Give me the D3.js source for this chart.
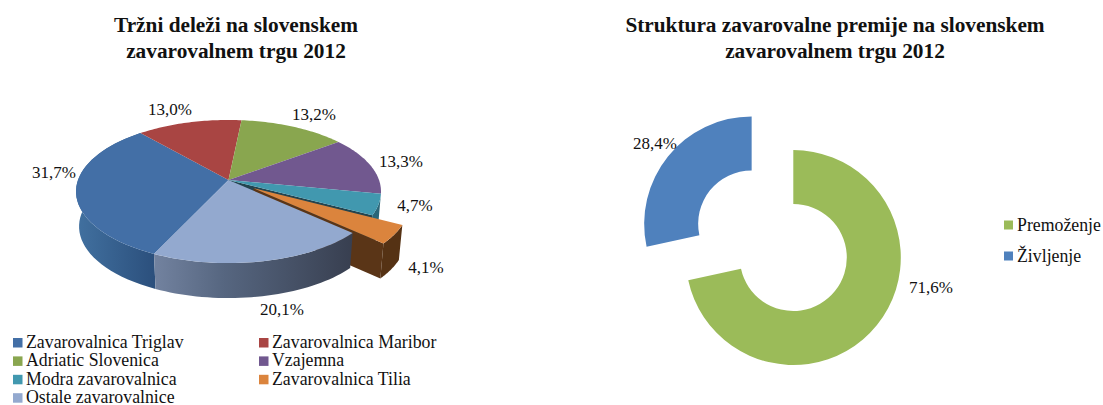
<!DOCTYPE html>
<html><head><meta charset="utf-8">
<script src="https://cdnjs.cloudflare.com/ajax/libs/d3/7.8.5/d3.min.js"></script>
<style>html,body{margin:0;padding:0;background:#fff}svg{display:block}text{font-family:"Liberation Serif","Times New Roman",serif;fill:#111}</style>
</head><body><svg id="c" width="1103" height="405"></svg>
<script>
const marketNames = ["Zavarovalnica Triglav","Zavarovalnica Maribor","Adriatic Slovenica","Vzajemna","Modra zavarovalnica","Zavarovalnica Tilia","Ostale zavarovalnice"];
const marketValues = [31.7,13.0,13.2,13.3,4.7,4.1,20.1];
const marketColors = ["#436fa6","#a94543","#89a64f","#71588f","#4198af","#db843d","#93a9cf"];
const premiumNames = ["Premoženje","Življenje"];
const premiumValues = [71.6,28.4];
const premiumColors = ["#9bbb59","#4f81bd"];
const fmt = v => v.toFixed(1).replace(".",",")+"%";

const svg = d3.select("#c");
const defs = svg.append("defs");
function grad(id,x1,x2,stops){
  const g=defs.append("linearGradient").attr("id",id).attr("gradientUnits","userSpaceOnUse")
    .attr("x1",x1).attr("x2",x2).attr("y1",0).attr("y2",0);
  stops.forEach(s=>g.append("stop").attr("offset",s[0]).attr("stop-color",s[1]));
}
grad("wallOstale",155,352,[[0,"#72829f"],[.35,"#566680"],[1,"#383f50"]]);
grad("wallTriglav",78,156,[[0,"#41709f"],[1,"#2b4f7c"]]);

// ---------- perspective 3D pie ----------
const P = {cx:228.5,cy:180,a:150.5,b:69.7,k:.161,depth:35,shrink:.98};
const project = (ang,r=1,off=[0,0]) => {
  const u=Math.sin(ang)*r+off[0], v=Math.cos(ang)*r+off[1], w=1+P.k*v;
  return [P.cx+P.a*u/w, P.cy-P.b*v/w];
};
const drop = p => [P.cx+(p[0]-P.cx)*P.shrink, p[1]+P.depth];
const line = d3.line();
const rad = d3.scaleLinear().domain([0,180]).range([0,Math.PI]);
const arcs = d3.pie().sort(null).startAngle(rad(-155)).endAngle(rad(205))(marketValues);
const rimPts = (a0,a1,off) => d3.range(41).map(i=>project(a0+(a1-a0)*i/40,1,off));
const topPath = (d,off=[0,0]) => line([project(0,0,off),...rimPts(d.startAngle,d.endAngle,off)])+"Z";
const wallPath = (d,off=[0,0]) => { const r=rimPts(d.startAngle,d.endAngle,off); return line([...r,...r.slice().reverse().map(drop)])+"Z"; };
const EX = .2;
const til = arcs[5], mid=(til.startAngle+til.endAngle)/2, tilOff=[Math.sin(mid)*EX,Math.cos(mid)*EX];
const pie3 = svg.append("g");

// wall of the gap and Modra's outer wall
const gapA = project(0,0), gapB = project(til.startAngle);
pie3.append("path").attr("d",line([gapA,gapB,drop(gapB),drop(gapA)])+"Z").attr("fill","#23444f");
pie3.append("path").attr("d",wallPath(arcs[4])).attr("fill","#2a6678");
pie3.append("path").attr("d",wallPath(arcs[0])).attr("fill","url(#wallTriglav)");
// tops behind
[0,1,2,3,4].forEach(i=>pie3.append("path").attr("d",topPath(arcs[i])).attr("fill",marketColors[i]));
// exploded slice
const tA=project(0,0,tilOff), tE=project(til.endAngle,1,tilOff);
pie3.append("path").attr("d",line([tA,tE,drop(tE),drop(tA)])+"Z").attr("fill","#5a3517");
pie3.append("path").attr("d",wallPath(til,tilOff)).attr("fill","#553214");
pie3.append("path").attr("d",topPath(til,tilOff)).attr("fill",marketColors[5]);
// front slice
pie3.append("path").attr("d",wallPath(arcs[6])).attr("fill","url(#wallOstale)");
pie3.append("path").attr("d",topPath(arcs[6])).attr("fill",marketColors[6]);

// labels, centre of each text
const marketLabelAt = [[54,172],[170,109],[314,114],[401,161],[415,205],[426,267],[282,309]];
svg.append("g").selectAll("text").data(marketValues).join("text")
  .attr("x",(d,i)=>marketLabelAt[i][0]).attr("y",(d,i)=>marketLabelAt[i][1]+5.5)
  .attr("text-anchor","middle").attr("font-size",17).text(fmt);

// ---------- doughnut ----------
const D={cx:793.3,cy:257.5,R:107.5,r:53.5};
const dArc=d3.arc().innerRadius(D.r).outerRadius(D.R);
const dArcs=d3.pie().sort(null)(premiumValues);
const dg=svg.append("g");
dg.selectAll("path").data(dArcs).join("path")
  .attr("d",dArc).attr("fill",(d,i)=>premiumColors[i])
  .attr("transform",(d,i)=>{
    const m=(d.startAngle+d.endAngle)/2, e=i===1?D.r:0;
    return `translate(${D.cx+Math.sin(m)*e},${D.cy-Math.cos(m)*e})`;
  });
const premiumLabelAt=[[931,287],[655,143]];
svg.append("g").selectAll("text").data(premiumValues).join("text")
  .attr("x",(d,i)=>premiumLabelAt[i][0]).attr("y",(d,i)=>premiumLabelAt[i][1]+5.5)
  .attr("text-anchor","middle").attr("font-size",17).text(fmt);

// ---------- titles ----------
const titles=[[236,["Tržni deleži na slovenskem","zavarovalnem trgu 2012"]],[835,["Struktura zavarovalne premije na slovenskem","zavarovalnem trgu 2012"]]];
titles.forEach(([x,ls])=>ls.forEach((t,i)=>svg.append("text").attr("x",x).attr("y",32+i*26)
  .attr("text-anchor","middle").attr("font-size",21.3).attr("font-weight","bold").text(t)));

// ---------- legends ----------
const lg=svg.append("g");
marketNames.forEach((n,i)=>{
  const col=i%2, row=Math.floor(i/2), x=[13,259][col], y=343+row*18.4;
  lg.append("rect").attr("x",x).attr("y",y-5).attr("width",9.5).attr("height",9.5).attr("fill",marketColors[i]);
  lg.append("text").attr("x",x+13).attr("y",y+5).attr("font-size",17.8).text(n);
});
premiumNames.forEach((n,i)=>{
  const y=225+i*31;
  lg.append("rect").attr("x",1004).attr("y",y-4.5).attr("width",9).attr("height",9).attr("fill",premiumColors[i]);
  lg.append("text").attr("x",1017).attr("y",y+5.5).attr("font-size",17.8).text(n);
});
</script></body></html>
